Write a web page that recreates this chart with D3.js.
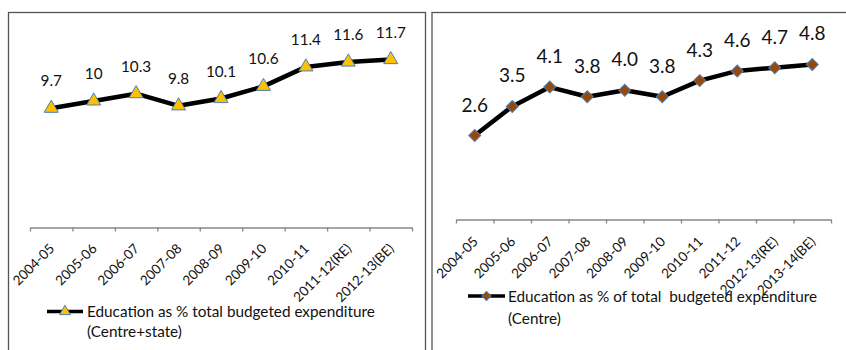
<!DOCTYPE html>
<html><head><meta charset="utf-8">
<script src="https://cdn.jsdelivr.net/npm/d3@7"></script>
<style>
body{margin:0;background:#fff;}
svg{display:block;font-family:Lato, "Open Sans", sans-serif;}
</style></head>
<body>
<svg id="c" width="846" height="350"></svg>
<script>
// ---- data ----
const leftCategories = ["2004-05","2005-06","2006-07","2007-08","2008-09","2009-10","2010-11","2011-12(RE)","2012-13(BE)"];
const leftValues = [9.7, 10, 10.3, 9.8, 10.1, 10.6, 11.4, 11.6, 11.7];
const leftLabels = ["9.7","10","10.3","9.8","10.1","10.6","11.4","11.6","11.7"];
const leftLegend = ["Education as % total budgeted expenditure", "(Centre+state)"];

const rightCategories = ["2004-05","2005-06","2006-07","2007-08","2008-09","2009-10","2010-11","2011-12","2012-13(RE)","2013-14(BE)"];
const rightValues = [2.6, 3.5, 4.1, 3.8, 4.0, 3.8, 4.3, 4.6, 4.7, 4.8];
const rightLabels = ["2.6","3.5","4.1","3.8","4.0","3.8","4.3","4.6","4.7","4.8"];
const rightLegend = ["Education as % of total  budgeted expenditure", "(Centre)"];

const svg = d3.select("#c");

// panel borders
svg.append("rect").attr("x",8.5).attr("y",12.5).attr("width",417).attr("height",360)
  .attr("fill","none").attr("stroke","#555").attr("stroke-width",1.3);
svg.append("rect").attr("x",432).attr("y",12.5).attr("width",430).attr("height",360)
  .attr("fill","none").attr("stroke","#555").attr("stroke-width",1.3);

function panel(cfg){
  const g = svg.append("g");
  const n = cfg.cats.length;
  const x = d3.scaleBand().domain(cfg.cats).range(cfg.xr);
  const xe = d3.scaleLinear().domain([0,n]).range(cfg.xr);
  const y = d3.scaleLinear().domain(cfg.yd).range(cfg.yr);
  const axisY = y(cfg.yd[0]);

  const ax = g.append("g").attr("transform",`translate(0,${axisY})`)
    .call(d3.axisBottom(xe).tickValues(d3.range(n+1)).tickFormat("").tickSize(4).tickSizeOuter(0));
  ax.selectAll("path,line").attr("stroke","#888").attr("stroke-width",1.3);

  g.selectAll("text.xl").data(cfg.cats).join("text").attr("class","xl")
    .attr("transform",d=>`translate(${x(d)+x.bandwidth()/2+cfg.lx},${axisY+cfg.ly}) rotate(-45)`)
    .attr("text-anchor","end").attr("font-size",cfg.xfs).attr("fill","#111").text(d=>d);

  const cx = d=>x(d)+x.bandwidth()/2;
  const line = d3.line().x((d,i)=>cx(cfg.cats[i])).y(d=>y(d));
  g.append("path").datum(cfg.vals).attr("d",line).attr("fill","none")
    .attr("stroke","#000").attr("stroke-width",4.5).attr("stroke-linejoin","round").attr("stroke-linecap","round");

  g.selectAll("path.m").data(cfg.vals).join("path").attr("class","m")
    .attr("transform",(d,i)=>`translate(${cx(cfg.cats[i])},${y(d)}) rotate(${cfg.rot})`)
    .attr("d",d3.symbol().type(cfg.sym).size(cfg.size)())
    .attr("fill",cfg.fill).attr("stroke","#4a7ebb").attr("stroke-width",1);

  g.selectAll("text.dl").data(cfg.vals).join("text").attr("class","dl")
    .attr("x",(d,i)=>cx(cfg.cats[i])).attr("y",d=>y(d)-cfg.dy)
    .attr("text-anchor","middle").attr("font-size",cfg.dfs).attr("fill","#111")
    .text((d,i)=>cfg.labels[i]);

  // legend
  const lg = g.append("g");
  lg.append("line").attr("x1",cfg.leg.x1).attr("x2",cfg.leg.x2).attr("y1",cfg.leg.y).attr("y2",cfg.leg.y)
    .attr("stroke","#000").attr("stroke-width",3.5);
  lg.append("path").attr("transform",`translate(${(cfg.leg.x1+cfg.leg.x2)/2},${cfg.leg.y}) rotate(${cfg.rot})`)
    .attr("d",d3.symbol().type(cfg.sym).size(cfg.size*0.6)())
    .attr("fill",cfg.fill).attr("stroke","#4a7ebb").attr("stroke-width",1);
  lg.selectAll("text").data(cfg.legend).join("text")
    .attr("x",cfg.leg.tx).attr("y",(d,i)=>cfg.leg.y+cfg.leg.b+i*cfg.leg.lh)
    .attr("font-size",cfg.leg.fs).attr("fill","#111").style("white-space","pre").text(d=>d);
}

panel({cats:leftCategories, vals:leftValues, labels:leftLabels, legend:leftLegend,
  xr:[30,412], yd:[4.8,12], yr:[227.5,52.3], lx:4, ly:22, xfs:13.5,
  sym:d3.symbolTriangle, size:85, rot:0, fill:"#ffc000", dy:22, dfs:15.3,
  leg:{x1:47,x2:83,y:311.5,tx:87,b:5.5,lh:20,fs:15.3}});

panel({cats:rightCategories, vals:rightValues, labels:rightLabels, legend:rightLegend,
  xr:[456,831], yd:[0,6], yr:[219.5,25.7], lx:4, ly:23, xfs:13.5,
  sym:d3.symbolSquare, size:72, rot:45, fill:"#984807", dy:24, dfs:19,
  leg:{x1:468,x2:505,y:296,tx:508,b:5.5,lh:22,fs:15.3}});
</script>
</body></html>
